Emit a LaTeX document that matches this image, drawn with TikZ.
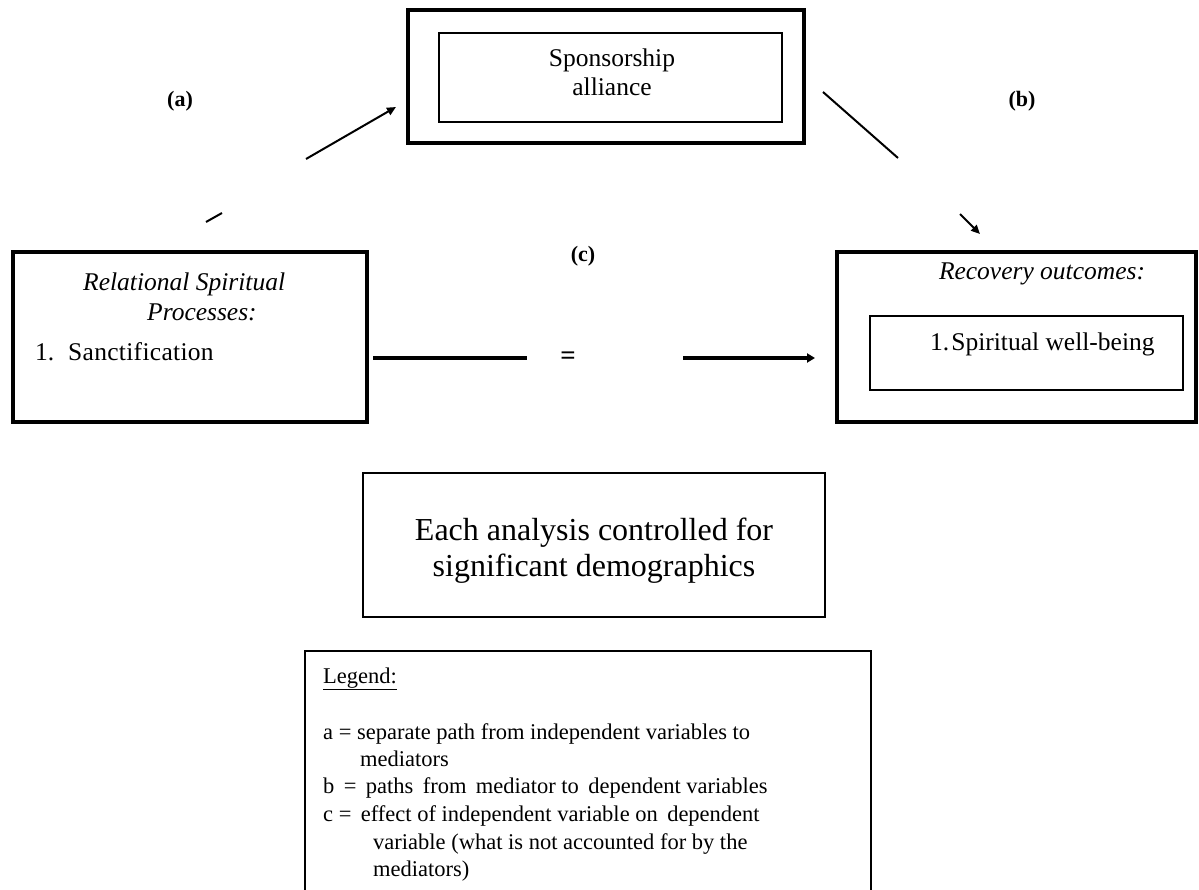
\documentclass[tikz,border=0pt]{standalone}
\usepackage{fontspec}
\setmainfont{Liberation Serif}
\usetikzlibrary{arrows.meta}
\begin{document}
\begin{tikzpicture}[x=1pt,y=-1pt,
  thickbox/.style={draw, line width=4pt, inner sep=0pt},
  thinbox/.style={draw, line width=1.5pt, inner sep=0pt},
  txt/.style={font=\fontsize{25.5}{28}\selectfont, inner sep=0pt},
  itxt/.style={font=\fontsize{25.5}{28}\selectfont\itshape, inner sep=0pt},
  big/.style={font=\fontsize{32}{35}\selectfont, inner sep=0pt},
  lbl/.style={font=\fontsize{22}{26}\selectfont\bfseries, inner sep=0pt},
  leg/.style={font=\fontsize{22.5}{27}\selectfont, inner sep=0pt, anchor=base west},
  conn/.style={line width=2pt},
  tip/.style={-{Triangle[length=9pt,width=8pt]}}
]
\useasboundingbox (0,0) rectangle (1199,890);

% mediator box
\node[thickbox, minimum width=396pt, minimum height=133pt] (med) at (606,76.5) {};
\node[thinbox, minimum width=343pt, minimum height=89pt] (medin) at (610.5,77.5) {};
\node[txt, anchor=base] (sp1) at (612,67) {Sponsorship};
\node[txt, anchor=base] (sp2) at (612,96) {alliance};

% independent box
\node[thickbox, minimum width=354pt, minimum height=170pt] (ind) at (190,337) {};
\node[itxt, anchor=base west] (rs1) at (83,291) {Relational Spiritual};
\node[itxt, anchor=base west] (rs2) at (147,321) {Processes:};
\node[txt, anchor=base west] (rsn) at (35,360) {1.};
\node[txt, anchor=base west] (rs3) at (68,360) {S\kern0.3pt a\kern0.3pt n\kern0.3pt c\kern0.3pt t\kern0.3pt i\kern0.3pt f\kern0.3pt i\kern0.3pt c\kern0.3pt a\kern0.3pt t\kern0.3pt i\kern0.3pt o\kern0.3pt n};

% dependent box
\node[thickbox, minimum width=359pt, minimum height=170pt] (dep) at (1016.5,337) {};
\node[thinbox, minimum width=313pt, minimum height=74pt] (depin) at (1026.5,353) {};
\node[itxt, anchor=base] (ro) at (1042,280) {Recovery outcomes:};
\node[txt, anchor=base west] (sw) at (930,351) {1.\hspace{2pt}Spiritual well-being};

% path labels
\node[lbl] (la) at (180,101) {(a)};
\node[lbl] (lb) at (1022,101) {(b)};
\node[lbl] (lc) at (583,256) {(c)};
\node[lbl, font=\fontsize{27}{30}\selectfont\bfseries] (eq) at (568,358) {=};

% path a
\coordinate (a0) at (206,222);
\coordinate (a01) at (222,213);
\coordinate (a1) at (306,159);
\coordinate (a2) at (396,107);
\draw[conn] (a0) -- (a01);
\draw[conn, tip] (a1) -- (a2);

% path b
\coordinate (b1) at (823,92);
\coordinate (b2) at (898,158);
\coordinate (b3) at (960,214);
\coordinate (b4) at (980,234);
\draw[conn] (b1) -- (b2);
\draw[conn, tip] (b3) -- (b4);

% path c
\coordinate (c1) at (373,358);
\coordinate (c2) at (527,358);
\coordinate (c3) at (683,358);
\coordinate (c4) at (815,358);
\draw[line width=4pt] (c1) -- (c2);
\draw[line width=4pt, -{Triangle[length=8pt,width=9pt]}] (c3) -- (c4);

% covariates box
\node[draw, line width=2.5pt, minimum width=462pt, minimum height=144pt, inner sep=0pt] (cov) at (594,545) {};
\node[big, anchor=base] (cv1) at (594,540) {Each analysis controlled for};
\node[big, anchor=base] (cv2) at (594,576) {significant demographics};

% legend box
\node[draw, line width=2pt, minimum width=566pt, minimum height=246pt, inner sep=0pt, anchor=north west] (leg) at (304,650) {};
\node[leg] (l0) at (323,683) {\underline{Legend:}};
\node[leg] (l1) at (323,739) {a = separate path from independent variables to};
\node[leg] (l2) at (360,766) {mediators};
\node[leg] (l3) at (323,793) {b\, = \,paths\, from\, mediator to\, dependent variables};
\node[leg] (l4) at (323,821) {c = \,effect of independent variable on\, dependent};
\node[leg] (l5) at (373,849) {variable (what is not accounted for by the};
\node[leg] (l6) at (373,876) {mediators)};
\end{tikzpicture}
\end{document}
